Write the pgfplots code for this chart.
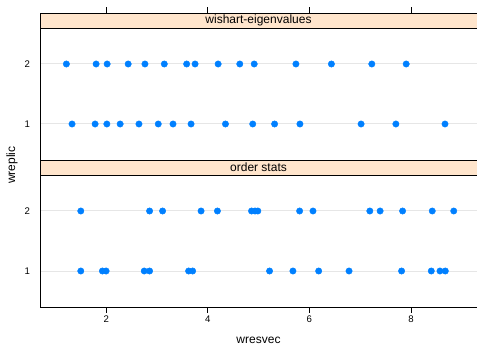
\documentclass[border=0pt]{standalone}
\usepackage{fontspec}
\setmainfont{Liberation Sans}
\usepackage{pgfplots}
\pgfplotsset{compat=1.18}
\definecolor{dotblue}{HTML}{0080FF}
\definecolor{stripbg}{HTML}{FFE5CC}
\definecolor{refgray}{HTML}{E6E6E6}
\pgfplotsset{panel/.style={
  scale only axis, width=437bp, height=132bp,
  xmin=0.697, xmax=9.30, ymin=0.4, ymax=2.6,
  xtick={2,4,6,8}, ytick={1,2},
  tick align=outside,
  x tick style={black, line width=0.6pt}, major tick length=5.5bp,
  ytick style={draw=none},
  axis line style={black, line width=0.8pt},
  ticklabel style={font=\fontsize{9.6bp}{11bp}\selectfont},
  /pgf/number format/assume math mode=true,
  yticklabel style={xshift=-1bp},
  ymajorgrids, grid style={refgray, line width=1bp},
  clip=false,
}}
\begin{document}
\begin{tikzpicture}
\useasboundingbox (-40bp,-40bp) rectangle (437bp,307bp);
% bottom panel: order stats
\begin{axis}[panel, xtick pos=lower]
\addplot[only marks, mark=*, mark size=3.2bp, color=dotblue] coordinates {
(1.500,1)(1.926,1)(1.999,1)(2.749,1)(2.854,1)(3.623,1)(3.702,1)(5.216,1)
(5.676,1)(6.183,1)(6.781,1)(7.815,1)(8.400,1)(8.571,1)(8.676,1)};
\addplot[only marks, mark=*, mark size=3.2bp, color=dotblue] coordinates {
(1.500,2)(2.854,2)(3.110,2)(3.868,2)(4.190,2)(4.861,2)(4.930,2)(4.985,2)
(5.808,2)(6.071,2)(7.190,2)(7.393,2)(7.835,2)(8.419,2)(8.842,2)};
\draw[fill=stripbg, line width=0.8pt] (rel axis cs:0,1) rectangle (rel axis cs:1,1.11364);
\node[font=\fontsize{12bp}{14bp}\selectfont] at (rel axis cs:0.5,1.05682) {order stats};
\end{axis}
% top panel: wishart-eigenvalues
\begin{axis}[panel, at={(0,147bp)}, xticklabels={}, xtick style={draw=none}]
\addplot[only marks, mark=*, mark size=3.2bp, color=dotblue] coordinates {
(1.328,1)(1.782,1)(2.013,1)(2.275,1)(2.645,1)(3.025,1)(3.316,1)(3.671,1)
(4.348,1)(4.885,1)(5.315,1)(5.814,1)(7.018,1)(7.703,1)(8.670,1)};
\addplot[only marks, mark=*, mark size=3.2bp, color=dotblue] coordinates {
(1.216,2)(1.802,2)(2.019,2)(2.433,2)(2.763,2)(3.144,2)(3.584,2)(3.750,2)
(4.204,2)(4.630,2)(4.914,2)(5.735,2)(6.434,2)(7.229,2)(7.906,2)};
\draw[fill=stripbg, line width=0.8pt] (rel axis cs:0,1) rectangle (rel axis cs:1,1.11364);
\node[font=\fontsize{12bp}{14bp}\selectfont] at (rel axis cs:0.5,1.05682) {wishart-eigenvalues};
\draw[black, line width=0.6pt] (axis cs:2,2.85) -- (axis cs:2,2.9417);
\draw[black, line width=0.6pt] (axis cs:4,2.85) -- (axis cs:4,2.9417);
\draw[black, line width=0.6pt] (axis cs:6,2.85) -- (axis cs:6,2.9417);
\draw[black, line width=0.6pt] (axis cs:8,2.85) -- (axis cs:8,2.9417);
\end{axis}
\node[font=\fontsize{12bp}{14bp}\selectfont] at (218.5bp,-33bp) {wresvec};
\node[font=\fontsize{12bp}{14bp}\selectfont, rotate=90] at (-28bp,142bp) {wreplic};
\end{tikzpicture}
\end{document}
